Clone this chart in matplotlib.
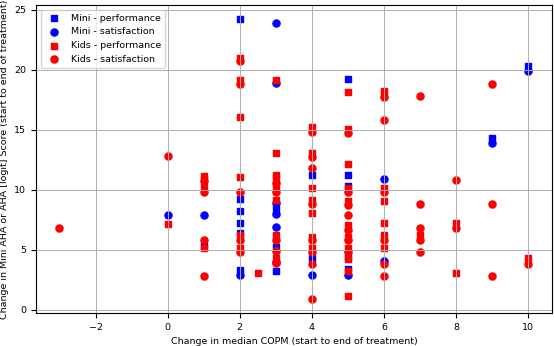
import matplotlib
matplotlib.use("Agg")
import matplotlib.pyplot as plt

# Mini - performance (blue squares)
mini_perf_x = [1, 2, 2, 2, 2, 2, 2, 3, 3, 3, 4, 4, 5, 5, 5, 5, 5, 9, 10]
mini_perf_y = [5.3, 24.2, 9.2, 8.2, 7.25, 6.4, 3.3, 8.4, 5.25, 3.25, 11.25, 4.3,
               19.2, 11.2, 10.35, 4.4, 3.4, 14.3, 20.3]

# Mini - satisfaction (blue circles)
mini_sat_x = [0, 1, 2, 3, 3, 3, 3, 3, 3, 4, 5, 6, 6, 9, 10]
mini_sat_y = [7.9, 7.9, 2.95, 23.9, 18.85, 8.9, 8.0, 6.9, 3.95, 2.95, 2.9,
              10.9, 4.05, 13.9, 19.85]

# Kids - performance (red squares)
kids_perf_x = [0, 1, 1, 1, 1,
               2, 2, 2, 2, 2, 2, 2.5,
               3, 3, 3, 3, 3, 3, 3, 3,
               4, 4, 4, 4, 4, 4, 4,
               5, 5, 5, 5, 5, 5, 5, 5, 5, 5, 5,
               6, 6, 6, 6, 6, 6, 6,
               7, 8, 8, 10]
kids_perf_y = [7.15, 11.15, 10.9, 10.2, 5.15,
               21.0, 19.1, 16.1, 11.1, 6.2, 5.15, 3.1,
               19.1, 13.1, 11.2, 10.9, 10.15, 9.15, 6.2, 4.3,
               15.2, 13.05, 10.15, 9.15, 8.1, 6.1, 5.15,
               18.1, 15.1, 12.15, 10.15, 9.1, 7.1, 6.1, 5.15, 4.25, 3.2, 1.15,
               18.2, 17.95, 10.15, 9.1, 7.2, 6.2, 5.15,
               6.2, 7.2, 3.1, 4.3]

# Kids - satisfaction (red circles)
kids_sat_x = [-3, 0, 1, 1, 1, 1,
              2, 2, 2, 2, 2,
              3, 3, 3, 3, 3,
              4, 4, 4, 4, 4, 4, 4, 4,
              5, 5, 5, 5, 5, 5, 5,
              6, 6, 6, 6, 6, 6,
              7, 7, 7, 7, 7,
              8, 8,
              9, 9, 9,
              10]
kids_sat_y = [6.85, 12.8, 10.75, 9.8, 5.85, 2.85,
              20.75, 18.8, 9.8, 5.8, 4.85,
              10.6, 9.8, 5.8, 4.9, 3.9,
              14.8, 12.75, 11.8, 8.8, 5.8, 4.85, 3.85, 0.9,
              14.75, 9.8, 8.75, 7.9, 6.65, 5.8, 4.85,
              17.75, 15.8, 9.8, 5.8, 3.85, 2.85,
              17.8, 8.85, 6.85, 5.85, 4.85,
              10.8, 6.85,
              18.8, 8.85, 2.85,
              3.85]

plt.rcParams['font.size'] = 6.8

fig, ax = plt.subplots(figsize=(5.54, 3.46), dpi=100)
ax.scatter(mini_perf_x, mini_perf_y, color='blue', marker='s', s=24, label='Mini - performance')
ax.scatter(mini_sat_x, mini_sat_y, color='blue', marker='o', s=26, label='Mini - satisfaction')
ax.scatter(kids_perf_x, kids_perf_y, color='red', marker='s', s=24, label='Kids - performance')
ax.scatter(kids_sat_x, kids_sat_y, color='red', marker='o', s=26, label='Kids - satisfaction')

ax.set_xlabel('Change in median COPM (start to end of treatment)')
ax.set_ylabel('Change in Mini AHA or AHA [logit] Score (start to end of treatment)')
ax.grid(True, linewidth=0.7)
ax.legend(loc='upper left')

plt.subplots_adjust(left=0.065, right=0.996, top=0.985, bottom=0.095)
plt.savefig('out.png')
